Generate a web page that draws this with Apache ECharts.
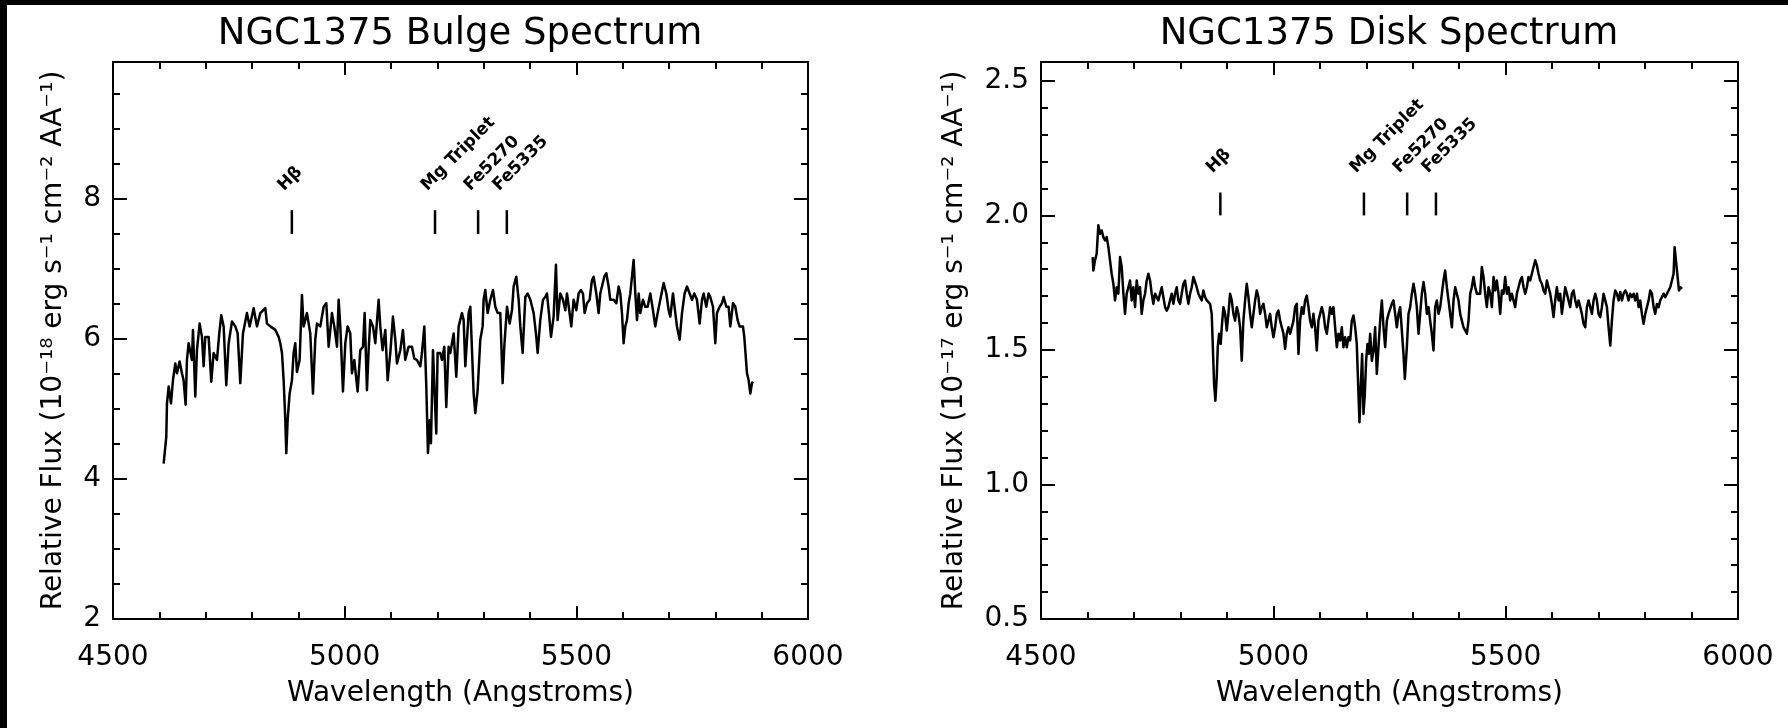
<!DOCTYPE html>
<html>
<head>
<meta charset="utf-8">
<script src="https://cdn.jsdelivr.net/npm/echarts@6/dist/echarts.min.js"></script>
<style>
  html, body { margin: 0; padding: 0; background: #fff; }
  #chart { width: 1788px; height: 728px; }
</style>
</head>
<body>
<div id="chart"></div>
<script>
// Panel text
const panelTitles = ['NGC1375 Bulge Spectrum', 'NGC1375 Disk Spectrum'];
const xAxisName = 'Wavelength (Angstroms)';
const yAxisNames = [
  'Relative Flux (10\u207B\u00B9\u2078 erg s\u207B\u00B9 cm\u207B\u00B2 AA\u207B\u00B9)',
  'Relative Flux (10\u207B\u00B9\u2077 erg s\u207B\u00B9 cm\u207B\u00B2 AA\u207B\u00B9)'
];

// Tick labels
const xTickLabels = [4500, 5000, 5500, 6000];
const bulgeTickLabels = [2, 4, 6, 8];
const diskTickLabels = [0.5, 1.0, 1.5, 2.0, 2.5];

// Absorption features marked above each spectrum
const featureNames = ['H\u03B2', 'Mg Triplet', 'Fe5270', 'Fe5335'];
const featureWaves = [4886, 5195, 5288, 5350];
const bulgeFeatureSpan = [7.5, 7.84];
const diskFeatureSpan = [2.0, 2.085];

// Bulge spectrum: [wavelength (A), flux (1e-18)]
const bulgeSpectrum = [
  [4609.3,4.22],[4615.0,4.60],[4616.5,5.08],[4620.1,5.32],[4625.1,5.08],[4629.4,5.41],[4634.5,5.65],[4638.1,5.51],
  [4643.8,5.68],[4648.8,5.51],[4652.4,5.41],[4656.8,5.06],[4659.6,5.70],[4663.2,5.94],[4670.4,5.70],[4672.6,6.13],
  [4677.6,5.18],[4681.2,5.84],[4687.0,6.22],[4692.0,6.03],[4695.6,5.61],[4699.2,6.03],[4706.4,6.03],[4712.1,5.39],
  [4717.2,5.80],[4724.4,5.70],[4729.4,6.08],[4733.7,6.34],[4738.8,6.18],[4744.5,5.34],[4749.6,5.94],[4756.8,6.25],
  [4764.0,6.18],[4769.0,6.08],[4774.7,5.37],[4780.5,6.08],[4789.1,6.37],[4794.9,6.18],[4803.5,6.44],[4810.7,6.18],
  [4817.9,6.37],[4828.7,6.44],[4832.3,6.22],[4839.5,6.18],[4850.3,6.13],[4857.5,6.03],[4861.1,5.94],[4864.7,5.80],
  [4868.3,5.41],[4871.9,4.84],[4874.0,4.37],[4876.9,4.84],[4881.2,5.22],[4886.2,5.41],[4889.8,5.80],[4893.4,5.94],
  [4897.0,5.53],[4902.8,5.70],[4907.8,6.63],[4911.4,6.18],[4915.0,6.27],[4918.6,6.37],[4925.8,6.08],[4931.6,5.22],
  [4936.6,5.99],[4940.2,6.22],[4947.4,6.18],[4954.6,6.46],[4960.4,6.51],[4965.4,5.89],[4972.6,6.37],[4977.6,6.18],
  [4983.4,5.89],[4987.0,6.56],[4990.6,6.18],[4996.3,5.25],[5001.4,5.94],[5006.4,6.18],[5012.1,6.08],[5015.7,5.51],
  [5020.8,5.70],[5028.0,5.25],[5033.7,5.84],[5039.5,5.89],[5043.1,6.37],[5048.1,5.27],[5051.7,5.84],[5055.3,6.27],
  [5061.1,6.18],[5066.1,5.94],[5073.3,6.56],[5076.9,6.18],[5081.9,5.84],[5087.7,6.13],[5092.7,5.41],[5098.5,5.80],
  [5104.2,6.32],[5109.3,5.99],[5112.9,5.65],[5120.1,5.84],[5125.8,6.13],[5130.8,5.70],[5138.0,5.89],[5145.2,5.89],
  [5150.3,5.72],[5156.0,5.70],[5163.2,5.61],[5166.8,5.80],[5171.9,6.18],[5176.2,5.32],[5179.8,4.37],[5183.4,4.84],
  [5186.2,4.51],[5190.6,5.84],[5194.2,5.22],[5197.7,4.65],[5200.6,5.80],[5206.4,5.80],[5210.0,5.70],[5215.0,5.89],
  [5219.3,5.03],[5224.4,5.89],[5228.0,5.80],[5235.2,6.08],[5240.9,5.46],[5246.0,6.18],[5253.2,6.37],[5256.8,6.27],
  [5260.4,5.61],[5267.6,6.37],[5271.2,6.46],[5274.8,6.46],[5278.4,5.22],[5282.0,4.94],[5287.0,5.27],[5292.7,5.99],
  [5297.8,6.18],[5299.9,6.56],[5303.5,6.70],[5308.6,6.37],[5314.3,6.56],[5320.1,6.70],[5325.1,6.46],[5330.2,6.37],
  [5335.9,6.37],[5340.9,5.37],[5344.5,5.89],[5350.3,6.46],[5356.1,6.22],[5361.1,6.41],[5364.7,6.75],[5370.4,6.89],
  [5375.5,6.56],[5379.1,6.18],[5384.1,5.80],[5389.9,6.60],[5394.9,6.65],[5400.7,6.56],[5407.9,6.37],[5413.6,6.03],
  [5416.5,5.80],[5422.2,6.27],[5428.0,6.56],[5433.0,6.60],[5436.6,6.65],[5440.9,6.37],[5445.3,6.03],[5451.0,6.32],
  [5456.0,7.06],[5459.6,6.27],[5465.4,6.65],[5471.2,6.56],[5476.2,6.41],[5479.8,6.65],[5485.5,6.37],[5489.1,6.18],
  [5494.2,6.56],[5499.9,6.41],[5505.0,6.65],[5510.0,6.70],[5514.3,6.65],[5517.9,6.37],[5523.0,6.51],[5528.7,6.56],
  [5533.7,6.84],[5537.3,6.89],[5543.1,6.65],[5548.1,6.37],[5551.7,6.65],[5555.3,6.75],[5560.4,6.89],[5564.7,6.94],
  [5569.7,6.75],[5573.3,6.56],[5580.5,6.56],[5586.3,6.51],[5591.3,6.75],[5594.9,6.65],[5598.5,6.37],[5602.1,5.94],
  [5605.7,6.18],[5609.3,6.27],[5612.9,6.51],[5616.5,6.65],[5620.1,6.65],[5623.7,7.13],[5627.3,6.65],[5630.9,6.27],
  [5634.5,6.65],[5638.1,6.37],[5643.8,6.56],[5648.8,6.46],[5653.9,6.46],[5659.6,6.65],[5665.4,6.41],[5670.4,6.18],
  [5675.5,6.37],[5681.2,6.56],[5688.4,6.80],[5694.2,6.65],[5699.2,6.41],[5702.8,6.32],[5708.6,6.65],[5713.6,6.37],
  [5717.2,6.18],[5723.0,5.99],[5728.0,6.37],[5733.7,6.65],[5738.8,6.75],[5744.5,6.65],[5749.6,6.56],[5754.6,6.65],
  [5760.4,6.56],[5766.1,6.22],[5771.2,6.56],[5774.7,6.65],[5780.5,6.46],[5785.5,6.65],[5789.1,6.60],[5794.9,6.46],
  [5799.9,5.94],[5803.5,6.37],[5809.3,6.46],[5814.3,6.51],[5817.9,6.60],[5823.7,6.46],[5828.7,6.46],[5832.3,6.18],
  [5838.1,6.51],[5843.1,6.46],[5848.1,6.27],[5852.4,6.18],[5855.3,6.18],[5859.6,6.18],[5862.5,6.03],[5868.3,5.51],
  [5871.9,5.41],[5875.5,5.22],[5879.1,5.37],[5881.2,5.39]
];

// Disk spectrum: [wavelength (A), flux (1e-17)]
const diskSpectrum = [
  [4611.2,1.845],[4612.7,1.795],[4616.2,1.833],[4619.8,1.857],[4623.4,1.963],[4627.0,1.932],[4630.6,1.944],[4634.2,1.919],
  [4637.8,1.907],[4641.4,1.919],[4645.0,1.882],[4648.5,1.833],[4652.1,1.783],[4655.7,1.746],[4659.3,1.684],[4662.9,1.733],
  [4666.5,1.709],[4670.1,1.845],[4673.7,1.808],[4677.3,1.709],[4680.8,1.634],[4684.4,1.709],[4688.0,1.733],[4691.6,1.758],
  [4695.2,1.684],[4698.8,1.733],[4702.4,1.659],[4706.0,1.758],[4709.6,1.709],[4713.1,1.733],[4716.7,1.634],[4720.3,1.684],
  [4723.9,1.709],[4727.5,1.758],[4731.1,1.783],[4734.7,1.758],[4738.3,1.709],[4741.8,1.671],[4745.4,1.709],[4749.0,1.709],
  [4752.6,1.684],[4756.2,1.709],[4759.8,1.733],[4763.4,1.733],[4767.0,1.659],[4770.6,1.646],[4774.1,1.659],[4777.7,1.684],
  [4781.3,1.709],[4784.9,1.671],[4788.5,1.709],[4792.1,1.733],[4795.7,1.684],[4799.3,1.671],[4802.8,1.709],[4806.4,1.746],
  [4810.0,1.758],[4813.6,1.709],[4817.2,1.671],[4820.8,1.709],[4824.4,1.733],[4828.0,1.771],[4831.6,1.777],[4835.1,1.733],
  [4838.7,1.709],[4842.3,1.696],[4845.9,1.684],[4849.5,1.721],[4853.1,1.696],[4856.7,1.684],[4860.3,1.684],[4863.9,1.671],
  [4867.4,1.634],[4869.6,1.522],[4872.5,1.374],[4875.3,1.311],[4878.2,1.398],[4880.4,1.510],[4883.2,1.560],[4886.8,1.522],
  [4889.0,1.584],[4892.6,1.659],[4896.2,1.634],[4899.7,1.572],[4903.3,1.634],[4906.9,1.709],[4910.5,1.684],[4914.1,1.634],
  [4917.7,1.609],[4921.3,1.659],[4924.9,1.634],[4928.5,1.584],[4932.0,1.460],[4935.6,1.609],[4939.2,1.684],[4942.8,1.746],
  [4946.4,1.696],[4950.0,1.634],[4953.6,1.584],[4957.2,1.634],[4960.8,1.684],[4964.3,1.721],[4967.9,1.696],[4971.5,1.634],
  [4975.1,1.659],[4978.7,1.671],[4982.3,1.634],[4985.9,1.584],[4989.5,1.609],[4993.0,1.634],[4996.6,1.584],[5000.2,1.547],
  [5003.8,1.584],[5007.4,1.634],[5011.0,1.646],[5014.6,1.609],[5018.2,1.584],[5021.8,1.560],[5025.3,1.504],[5028.9,1.560],
  [5032.5,1.584],[5036.1,1.560],[5039.7,1.584],[5043.3,1.609],[5046.9,1.659],[5050.5,1.671],[5054.1,1.485],[5057.6,1.609],
  [5061.2,1.659],[5064.8,1.634],[5068.4,1.684],[5072.0,1.702],[5075.6,1.659],[5079.2,1.609],[5082.8,1.584],[5086.3,1.634],
  [5089.9,1.584],[5093.5,1.498],[5097.1,1.609],[5100.7,1.634],[5104.3,1.659],[5107.9,1.634],[5111.5,1.584],[5115.1,1.560],
  [5118.6,1.609],[5122.2,1.659],[5125.8,1.634],[5129.4,1.659],[5133.0,1.584],[5136.6,1.510],[5140.2,1.560],[5143.8,1.535],
  [5147.3,1.584],[5150.9,1.510],[5154.5,1.547],[5158.1,1.510],[5161.7,1.547],[5165.3,1.535],[5168.9,1.609],[5172.5,1.628],
  [5176.1,1.584],[5179.6,1.522],[5183.2,1.336],[5185.4,1.231],[5188.2,1.361],[5191.1,1.485],[5194.0,1.262],[5196.9,1.336],
  [5199.7,1.460],[5202.6,1.522],[5205.5,1.485],[5208.4,1.560],[5212.0,1.460],[5215.6,1.498],[5219.1,1.584],[5222.7,1.411],
  [5226.3,1.510],[5229.9,1.609],[5233.5,1.684],[5237.1,1.584],[5240.7,1.510],[5244.3,1.609],[5247.9,1.634],[5251.4,1.634],
  [5255.0,1.671],[5258.6,1.684],[5262.2,1.634],[5265.8,1.584],[5269.4,1.634],[5273.0,1.659],[5276.6,1.659],[5280.1,1.485],
  [5283.0,1.392],[5287.3,1.510],[5290.9,1.634],[5294.5,1.659],[5298.1,1.709],[5301.7,1.746],[5305.3,1.709],[5308.8,1.659],
  [5312.4,1.560],[5316.0,1.634],[5319.6,1.709],[5323.2,1.752],[5326.8,1.709],[5330.4,1.634],[5334.0,1.659],[5337.5,1.609],
  [5341.1,1.560],[5344.7,1.498],[5348.3,1.659],[5351.9,1.684],[5355.5,1.634],[5359.1,1.659],[5362.7,1.709],[5366.2,1.758],
  [5369.8,1.795],[5373.4,1.733],[5377.0,1.684],[5380.6,1.634],[5384.2,1.584],[5387.8,1.684],[5391.4,1.733],[5394.9,1.733],
  [5398.5,1.684],[5402.1,1.634],[5405.7,1.609],[5409.3,1.584],[5412.9,1.572],[5416.5,1.560],[5420.1,1.609],[5423.7,1.709],
  [5427.2,1.733],[5430.8,1.771],[5434.4,1.733],[5438.0,1.709],[5445.2,1.709],[5448.7,1.808],[5452.3,1.771],[5455.9,1.709],
  [5459.5,1.659],[5463.1,1.733],[5466.7,1.709],[5470.3,1.659],[5473.9,1.771],[5477.4,1.721],[5481.0,1.758],[5484.6,1.709],
  [5488.2,1.634],[5491.8,1.721],[5495.4,1.709],[5499.0,1.771],[5502.6,1.709],[5506.2,1.733],[5509.7,1.684],[5513.3,1.709],
  [5516.9,1.684],[5520.5,1.659],[5524.1,1.709],[5527.7,1.733],[5531.3,1.758],[5534.9,1.771],[5538.5,1.733],[5542.0,1.709],
  [5545.6,1.733],[5549.2,1.771],[5552.8,1.758],[5556.4,1.783],[5560.0,1.808],[5563.6,1.833],[5567.2,1.814],[5570.7,1.783],
  [5574.3,1.758],[5577.9,1.746],[5581.5,1.721],[5585.1,1.709],[5588.7,1.758],[5592.3,1.733],[5595.9,1.709],[5599.4,1.671],
  [5603.0,1.622],[5606.6,1.684],[5610.2,1.733],[5613.8,1.684],[5617.4,1.709],[5621.0,1.634],[5624.6,1.684],[5628.2,1.733],
  [5631.8,1.709],[5635.3,1.684],[5638.9,1.659],[5642.5,1.709],[5646.1,1.721],[5649.7,1.684],[5653.3,1.659],[5656.9,1.684],
  [5660.5,1.659],[5664.0,1.634],[5667.6,1.597],[5671.2,1.584],[5674.8,1.659],[5678.4,1.684],[5682.0,1.659],[5685.6,1.634],
  [5689.2,1.684],[5692.8,1.709],[5696.3,1.684],[5699.9,1.634],[5703.5,1.622],[5707.1,1.659],[5710.7,1.709],[5714.3,1.684],
  [5717.9,1.659],[5721.5,1.584],[5725.1,1.516],[5728.6,1.609],[5732.2,1.684],[5735.8,1.721],[5739.4,1.709],[5743.0,1.684],
  [5746.6,1.715],[5750.2,1.684],[5753.8,1.709],[5757.4,1.721],[5760.9,1.709],[5764.5,1.684],[5768.1,1.709],[5771.7,1.696],
  [5775.3,1.709],[5778.9,1.684],[5782.5,1.709],[5786.1,1.659],[5789.6,1.684],[5793.2,1.634],[5796.8,1.597],[5800.4,1.634],
  [5804.0,1.659],[5807.6,1.684],[5811.2,1.721],[5814.8,1.709],[5818.4,1.659],[5821.9,1.634],[5825.5,1.671],[5829.1,1.659],
  [5832.7,1.684],[5836.3,1.684],[5839.9,1.709],[5843.5,1.696],[5847.1,1.709],[5850.6,1.721],[5854.2,1.733],[5857.8,1.733],
  [5861.4,1.783],[5863.6,1.882],[5867.2,1.882],[5870.0,1.771],[5872.9,1.721],[5875.8,1.733],[5879.4,1.727]
];

const FONT = 'DejaVu Sans';
const INK = '#000';

// Plot frames and axis ranges for both panels
const panels = [
  { left: 113, width: 695, yMin: 2, yMax: 9.957, major: 2, minor: 0.5, labels: bulgeTickLabels, digits: 0,
    nameGap: 45, data: bulgeSpectrum, span: bulgeFeatureSpan, titleX: 460 },
  { left: 1041, width: 697, yMin: 0.5, yMax: 2.57, major: 0.5, minor: 0.1, labels: diskTickLabels, digits: 1,
    nameGap: 72, data: diskSpectrum, span: diskFeatureSpan, titleX: 1389 }
];
const TOP = 62, HEIGHT = 557;

const tickLine = { color: INK, width: 2 };
const textBase = { fontFamily: FONT, color: INK, fontSize: 28 };

const grids = [], xAxes = [], yAxes = [], series = [], graphics = [];

panels.forEach((p, i) => {
  grids.push({ left: p.left, top: TOP, width: p.width, height: HEIGHT, containLabel: false });

  // bottom axis with labels, top axis as a mirrored frame edge
  ['bottom', 'top'].forEach(pos => {
    xAxes.push({
      gridIndex: i, type: 'value', position: pos, min: 4500, max: 6000, interval: 500,
      axisLine: { show: true, onZero: false, lineStyle: tickLine },
      axisTick: { show: true, inside: true, length: 13, lineStyle: tickLine },
      minorTick: { show: true, splitNumber: 5, length: 7, lineStyle: tickLine },
      splitLine: { show: false }, minorSplitLine: { show: false },
      axisLabel: pos === 'bottom'
        ? Object.assign({ show: true, margin: 25,
            formatter: v => (xTickLabels.indexOf(v) >= 0 ? String(v) : '') }, textBase)
        : { show: false },
      name: pos === 'bottom' ? xAxisName : '',
      nameLocation: 'middle', nameGap: 61,
      nameTextStyle: textBase
    });
  });

  // left/right frame edges: major ticks and minor ticks on separate axes
  ['left', 'right'].forEach(pos => {
    const isLeft = pos === 'left';
    yAxes.push({
      gridIndex: i, type: 'value', position: pos, min: p.yMin, max: p.yMax, interval: p.major,
      axisLine: { show: true, onZero: false, lineStyle: tickLine },
      axisTick: { show: true, inside: true, length: 14, lineStyle: tickLine },
      splitLine: { show: false },
      axisLabel: isLeft
        ? Object.assign({ show: true, margin: 12, showMaxLabel: false,
            formatter: v => (p.labels.some(t => Math.abs(t - v) < 1e-6) ? v.toFixed(p.digits) : '') }, textBase)
        : { show: false },
      name: isLeft ? yAxisNames[i] : '',
      nameLocation: 'middle', nameGap: p.nameGap, nameRotate: 90,
      nameTextStyle: textBase
    });
    yAxes.push({
      gridIndex: i, type: 'value', position: pos, min: p.yMin, max: p.yMax, interval: p.minor,
      axisLine: { show: false },
      axisTick: { show: true, inside: true, length: 7, lineStyle: tickLine },
      splitLine: { show: false },
      axisLabel: { show: false }
    });
  });

  const xIdx = i * 2, yIdx = i * 4;

  series.push({
    type: 'line', xAxisIndex: xIdx, yAxisIndex: yIdx, data: p.data,
    showSymbol: false, symbol: 'none', silent: true,
    lineStyle: { color: INK, width: 2.5, join: 'round' }
  });

  // feature markers: short vertical bars with slanted names above them
  series.push({
    type: 'custom', xAxisIndex: xIdx, yAxisIndex: yIdx, silent: true, clip: false,
    data: featureWaves.map(w => [w, p.span[0], p.span[1]]),
    renderItem: (params, api) => {
      const lo = api.coord([api.value(0), api.value(1)]);
      const hi = api.coord([api.value(0), api.value(2)]);
      return {
        type: 'group',
        children: [
          { type: 'line', shape: { x1: lo[0], y1: lo[1], x2: hi[0], y2: hi[1] },
            style: { stroke: INK, lineWidth: 2.5 } },
          { type: 'text', x: hi[0] - 5, y: hi[1] - 16, rotation: Math.PI / 4,
            style: { text: featureNames[params.dataIndex], fill: INK,
                     font: 'bold 17px "' + FONT + '"',
                     align: 'left', verticalAlign: 'bottom',
                     textAlign: 'left', textVerticalAlign: 'bottom' } }
        ]
      };
    }
  });

  graphics.push({
    type: 'text', x: p.titleX, y: 34, silent: true,
    style: { text: panelTitles[i], fill: INK, font: '37px "' + FONT + '"',
             align: 'center', verticalAlign: 'middle',
             textAlign: 'center', textVerticalAlign: 'middle' }
  });
});

// dark frame strips along the top and left edges
graphics.push({ type: 'rect', shape: { x: 0, y: 0, width: 1788, height: 5 }, style: { fill: INK }, silent: true });
graphics.push({ type: 'rect', shape: { x: 0, y: 0, width: 7, height: 728 }, style: { fill: INK }, silent: true });

const chart = echarts.init(document.getElementById('chart'), null, { renderer: 'canvas' });
chart.setOption({
  animation: false,
  backgroundColor: '#fff',
  grid: grids,
  xAxis: xAxes,
  yAxis: yAxes,
  series: series,
  graphic: graphics
});
</script>
</body>
</html>
